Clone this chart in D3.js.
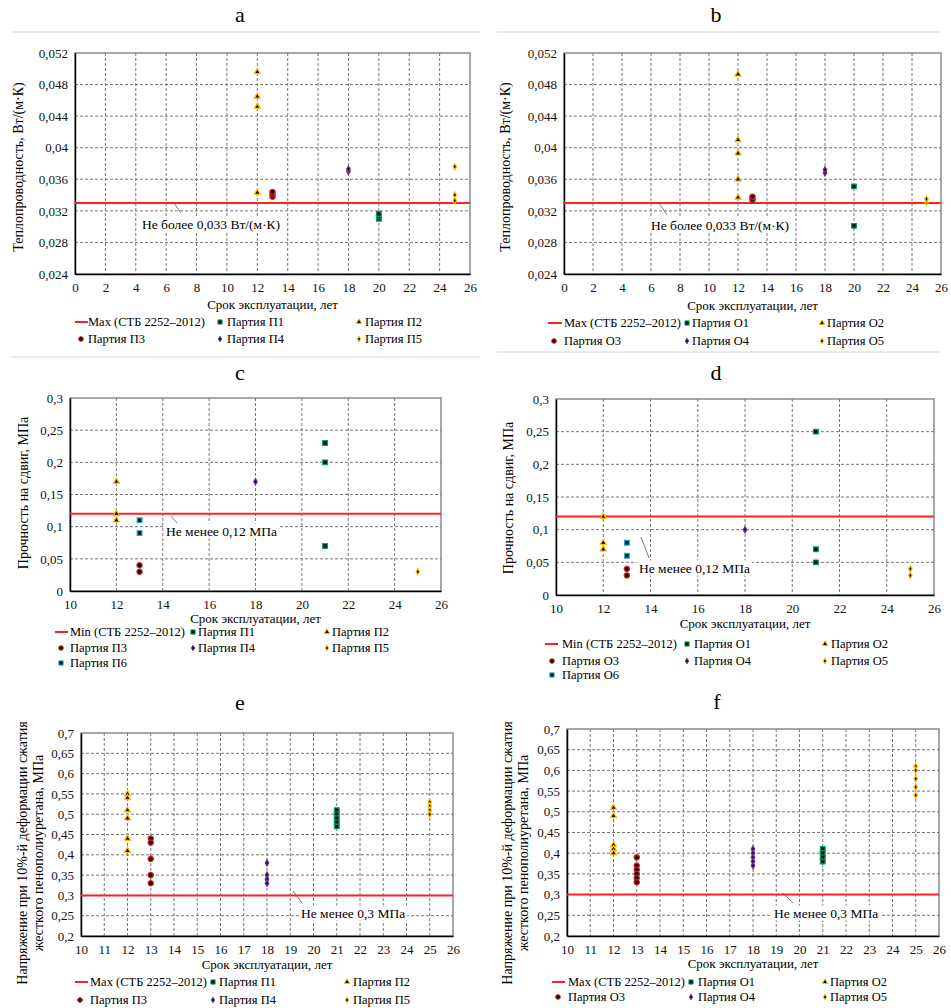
<!DOCTYPE html>
<html>
<head>
<meta charset="utf-8">
<script src="https://cdn.jsdelivr.net/npm/d3@7"></script>
<style>
  body { margin: 0; background: #fff; }
  svg { font-family: 'Liberation Serif', 'Times New Roman', serif; }
</style>
</head>
<body>
<svg id="chart" width="951" height="1008"></svg>
<script>
// ---- data ----
// a: thermal conductivity, batches П
const aNames = ['Партия П1', 'Партия П2', 'Партия П3', 'Партия П4', 'Партия П5'];
const aYears = [20, 12, 13, 18, 25];
const aValues = [
  [0.0310, 0.0313, 0.0316],
  [0.0496, 0.0465, 0.0452, 0.0343],
  [0.0338, 0.0341, 0.0344],
  [0.0370, 0.0373],
  [0.0376, 0.0340, 0.0333]
];
// b: thermal conductivity, batches О
const bNames = ['Партия О1', 'Партия О2', 'Партия О3', 'Партия О4', 'Партия О5'];
const bYears = [20, 12, 13, 18, 25];
const bValues = [
  [0.0351, 0.0301],
  [0.0493, 0.0410, 0.0393, 0.0360, 0.0337],
  [0.0333, 0.0335, 0.0338],
  [0.0368, 0.0372],
  [0.0331, 0.0335]
];
// c: shear strength, batches П
const cNames = ['Партия П1', 'Партия П2', 'Партия П3', 'Партия П4', 'Партия П5', 'Партия П6'];
const cYears = [21, 12, 13, 18, 25, 13];
const cValues = [
  [0.23, 0.20, 0.07],
  [0.17, 0.12, 0.11],
  [0.04, 0.03],
  [0.17],
  [0.03],
  [0.11, 0.09]
];
// d: shear strength, batches О
const dNames = ['Партия О1', 'Партия О2', 'Партия О3', 'Партия О4', 'Партия О5', 'Партия О6'];
const dYears = [21, 12, 13, 18, 25, 13];
const dValues = [
  [0.25, 0.07, 0.05],
  [0.12, 0.08, 0.07],
  [0.04, 0.03],
  [0.10],
  [0.04, 0.03],
  [0.08, 0.06]
];
// e: compressive stress at 10% strain, batches П
const eNames = ['Партия П1', 'Партия П2', 'Партия П3', 'Партия П4', 'Партия П5'];
const eYears = [21, 12, 13, 18, 25];
const eValues = [
  [0.51, 0.50, 0.49, 0.48, 0.47],
  [0.55, 0.54, 0.51, 0.49, 0.44, 0.41],
  [0.44, 0.43, 0.39, 0.35, 0.33],
  [0.38, 0.35, 0.34, 0.33],
  [0.53, 0.52, 0.51, 0.50]
];
// f: compressive stress at 10% strain, batches О
const fNames = ['Партия О1', 'Партия О2', 'Партия О3', 'Партия О4', 'Партия О5'];
const fYears = [21, 12, 13, 18, 25];
const fValues = [
  [0.41, 0.40, 0.39, 0.38],
  [0.51, 0.49, 0.42, 0.41, 0.40],
  [0.39, 0.37, 0.36, 0.35, 0.34, 0.33],
  [0.41, 0.40, 0.39, 0.38, 0.37],
  [0.61, 0.60, 0.58, 0.56, 0.54]
];

const thermTicks = [0.024, 0.028, 0.032, 0.036, 0.04, 0.044, 0.048, 0.052];
const shearTicks = [0, 0.05, 0.1, 0.15, 0.2, 0.25, 0.3];
const stressTicks = [0.2, 0.25, 0.3, 0.35, 0.4, 0.45, 0.5, 0.55, 0.6, 0.65, 0.7];
const thermLimit = 0.033, shearLimit = 0.12, stressLimit = 0.3;

// ---- marker styles, by series position (1..6) ----
const markerStyle = [
  { type: d3.symbolSquare, size: 22, stroke: '#00a060' },
  { type: d3.symbolTriangle, size: 16, stroke: '#ffc000' },
  { type: d3.symbolCircle, size: 22, stroke: '#e02020' },
  { type: d3.symbolDiamond, size: 11, stroke: '#7030a0' },
  { type: d3.symbolDiamond, size: 11, stroke: '#ffc000' },
  { type: d3.symbolSquare, size: 22, stroke: '#10a8d8' }
];

const svg = d3.select('#chart');
const fmt = v => String(+v.toFixed(3)).replace('.', ',');

// light separators
[[11, 480, 32], [497, 941, 32], [11, 480, 357], [497, 941, 352]].forEach(s => {
  svg.append('line').attr('x1', s[0]).attr('x2', s[1]).attr('y1', s[2]).attr('y2', s[2])
    .attr('stroke', '#e6e6e6').attr('stroke-width', 1.5);
});

function drawPanel(p) {
  const x = d3.scaleLinear().domain(p.xDomain).range([p.left, p.right]);
  const y = d3.scaleLinear().domain(p.yDomain).range([p.bottom, p.top]);
  const g = svg.append('g');

  // title
  g.append('text').attr('x', p.titleX).attr('y', p.titleY).attr('text-anchor', 'middle')
    .attr('font-size', 22).text(p.title);

  // border
  g.append('rect').attr('x', p.left).attr('y', p.top)
    .attr('width', p.right - p.left).attr('height', p.bottom - p.top)
    .attr('fill', 'none').attr('stroke', '#8a8a8a').attr('stroke-width', 1.5);

  // grid
  g.selectAll('.vg').data(p.xTicks.slice(1, -1)).enter().append('line')
    .attr('x1', d => x(d)).attr('x2', d => x(d)).attr('y1', p.top).attr('y2', p.bottom)
    .attr('stroke', '#777').attr('stroke-dasharray', '3,2').attr('stroke-width', 1);
  g.selectAll('.hg').data(p.yTicks.slice(1, -1)).enter().append('line')
    .attr('x1', p.left).attr('x2', p.right).attr('y1', d => y(d)).attr('y2', d => y(d))
    .attr('stroke', '#777').attr('stroke-dasharray', '3,2').attr('stroke-width', 1);

  // annotation (under the points and limit line)
  const annG = g.append('g');
  annG.append('line').attr('x1', p.lead[0]).attr('y1', p.lead[1]).attr('x2', p.lead[2]).attr('y2', p.lead[3])
    .attr('stroke', '#555').attr('stroke-width', 0.8);
  const annBg = annG.append('rect').attr('fill', '#fff');
  const ann = annG.append('text').attr('x', p.annX).attr('y', p.annY)
    .attr('dominant-baseline', 'central').attr('font-size', 13.5).text(p.annText);
  const bb = ann.node().getBBox();
  annBg.attr('x', bb.x - 2).attr('y', bb.y).attr('width', bb.width + 4).attr('height', bb.height);

  // axes
  const xAxis = g.append('g').attr('transform', 'translate(0,' + p.bottom + ')')
    .call(d3.axisBottom(x).tickValues(p.xTicks).tickSize(0).tickPadding(9).tickFormat(d => d));
  const yAxis = g.append('g').attr('transform', 'translate(' + p.left + ',0)')
    .call(d3.axisLeft(y).tickValues(p.yTicks).tickSize(0).tickPadding(7).tickFormat(fmt));
  [xAxis, yAxis].forEach(ax => {
    ax.attr('font-family', null).attr('font-size', null);
    ax.select('.domain').attr('stroke', '#000').attr('stroke-width', 1.5);
    ax.selectAll('text').style('font-family', "'Liberation Serif', serif").attr('font-size', 13).attr('fill', '#111');
  });

  // axis titles
  g.append('text').attr('x', (p.left + p.right) / 2).attr('y', p.xTitleY)
    .attr('text-anchor', 'middle').attr('dominant-baseline', 'central')
    .attr('font-size', 13).text('Срок эксплуатации, лет');
  p.yTitle.forEach((t, i) => {
    g.append('text')
      .attr('transform', 'translate(' + p.yTitleX[i] + ',' + p.yTitleY + ') rotate(-90)')
      .attr('text-anchor', 'middle').attr('dominant-baseline', 'central')
      .attr('font-size', 14).text(t);
  });

  // limit line
  g.append('line').attr('x1', p.left).attr('x2', p.right)
    .attr('y1', y(p.limit)).attr('y2', y(p.limit))
    .attr('stroke', '#ff2020').attr('stroke-width', 2);

  // points
  p.values.forEach((vals, i) => {
    const st = markerStyle[i];
    g.selectAll('.pt' + i).data(vals).enter().append('path')
      .attr('d', d3.symbol().type(st.type).size(st.size))
      .attr('transform', d => 'translate(' + x(p.years[i]) + ',' + y(d) + ')')
      .attr('fill', '#111').attr('stroke', st.stroke).attr('stroke-width', 1.2);
  });

  // legend
  const lg = p.legend;
  g.append('line').attr('x1', lg.lineX[0]).attr('x2', lg.lineX[1])
    .attr('y1', lg.rows[0]).attr('y2', lg.rows[0]).attr('stroke', '#ff2020').attr('stroke-width', 2);
  g.append('text').attr('x', lg.lineX[2]).attr('y', lg.rows[0]).attr('dominant-baseline', 'central')
    .attr('font-size', 12.5).text(p.limitLabel);
  p.names.forEach((name, i) => {
    const slot = i + 1;
    const row = Math.floor(slot / 3), col = slot % 3;
    const st = markerStyle[i];
    const mx = lg.cols[col][0], tx = lg.cols[col][1], yy = lg.rows[row];
    g.append('path').attr('d', d3.symbol().type(st.type).size(st.size * 0.8))
      .attr('transform', 'translate(' + mx + ',' + yy + ')')
      .attr('fill', '#111').attr('stroke', st.stroke).attr('stroke-width', 1);
    g.append('text').attr('x', tx).attr('y', yy).attr('dominant-baseline', 'central')
      .attr('font-size', 12.5).text(name);
  });
}

const x26 = d3.range(0, 27, 2);
const x10by2 = d3.range(10, 27, 2);
const x10by1 = d3.range(10, 27, 1);
const thermTitle = ['Теплопроводность, Вт/(м·К)'];
const shearTitle = ['Прочность на сдвиг, МПа'];
const stressTitle = ['Напряжение при 10%-й деформации сжатия', 'жесткого пенополиуретана, МПа'];

drawPanel({
  title: 'a', titleX: 240, titleY: 22,
  left: 75, right: 470, top: 53, bottom: 274,
  xDomain: [0, 26], xTicks: x26, yDomain: [0.024, 0.052], yTicks: thermTicks,
  names: aNames, years: aYears, values: aValues, limit: thermLimit,
  limitLabel: 'Max (СТБ 2252–2012)',
  xTitleY: 304, yTitle: thermTitle, yTitleX: [18], yTitleY: 167,
  lead: [174, 203, 181, 213], annX: 142, annY: 224, annText: 'Не более 0,033 Вт/(м·К)',
  legend: { lineX: [75, 88, 88], rows: [322, 339], cols: [[81, 88], [220, 227], [359, 365]] }
});
drawPanel({
  title: 'b', titleX: 716, titleY: 22,
  left: 564, right: 941, top: 53, bottom: 274,
  xDomain: [0, 26], xTicks: x26, yDomain: [0.024, 0.052], yTicks: thermTicks,
  names: bNames, years: bYears, values: bValues, limit: thermLimit,
  limitLabel: 'Max (СТБ 2252–2012)',
  xTitleY: 305, yTitle: thermTitle, yTitleX: [505], yTitleY: 167,
  lead: [659, 203, 667, 215], annX: 651, annY: 225, annText: 'Не более 0,033 Вт/(м·К)',
  legend: { lineX: [548, 562, 564], rows: [323, 341], cols: [[554, 564], [687, 692], [822, 827]] }
});
drawPanel({
  title: 'c', titleX: 240, titleY: 380,
  left: 70, right: 441, top: 398, bottom: 591,
  xDomain: [10, 26], xTicks: x10by2, yDomain: [0, 0.3], yTicks: shearTicks,
  names: cNames, years: cYears, values: cValues, limit: shearLimit,
  limitLabel: 'Min (СТБ 2252–2012)',
  xTitleY: 618, yTitle: shearTitle, yTitleX: [23], yTitleY: 493,
  lead: [171, 516, 177, 523], annX: 166, annY: 531, annText: 'Не менее 0,12 МПа',
  legend: { lineX: [55, 68, 70], rows: [632, 648, 663], cols: [[61, 70], [193, 198], [327, 332]] }
});
drawPanel({
  title: 'd', titleX: 716, titleY: 380,
  left: 556, right: 934, top: 399, bottom: 595,
  xDomain: [10, 26], xTicks: x10by2, yDomain: [0, 0.3], yTicks: shearTicks,
  names: dNames, years: dYears, values: dValues, limit: shearLimit,
  limitLabel: 'Min (СТБ 2252–2012)',
  xTitleY: 623, yTitle: shearTitle, yTitleX: [508], yTitleY: 498,
  lead: [641, 537, 649, 558], annX: 639, annY: 568, annText: 'Не менее 0,12 МПа',
  legend: { lineX: [545, 558, 562], rows: [644, 661, 675], cols: [[552, 562], [687, 694], [825, 831]] }
});
drawPanel({
  title: 'e', titleX: 240, titleY: 710,
  left: 81, right: 453, top: 733, bottom: 936,
  xDomain: [10, 26], xTicks: x10by1, yDomain: [0.2, 0.7], yTicks: stressTicks,
  names: eNames, years: eYears, values: eValues, limit: stressLimit,
  limitLabel: 'Max (СТБ 2252–2012)',
  xTitleY: 964, yTitle: stressTitle, yTitleX: [22, 38], yTitleY: 853,
  lead: [293, 891, 302, 903], annX: 301, annY: 913, annText: 'Не менее 0,3 МПа',
  legend: { lineX: [75, 88, 90], rows: [982, 1000], cols: [[80, 90], [213, 219], [347, 353]] }
});
drawPanel({
  title: 'f', titleX: 717, titleY: 709,
  left: 567, right: 939, top: 729, bottom: 936,
  xDomain: [10, 26], xTicks: x10by1, yDomain: [0.2, 0.7], yTicks: stressTicks,
  names: fNames, years: fYears, values: fValues, limit: stressLimit,
  limitLabel: 'Max (СТБ 2252–2012)',
  xTitleY: 963, yTitle: stressTitle, yTitleX: [507, 523], yTitleY: 853,
  lead: [783, 893, 793, 903], annX: 774, annY: 913, annText: 'Не менее 0,3 МПа',
  legend: { lineX: [552, 565, 568], rows: [982, 997], cols: [[558, 568], [691, 698], [825, 830]] }
});
</script>
</body>
</html>
